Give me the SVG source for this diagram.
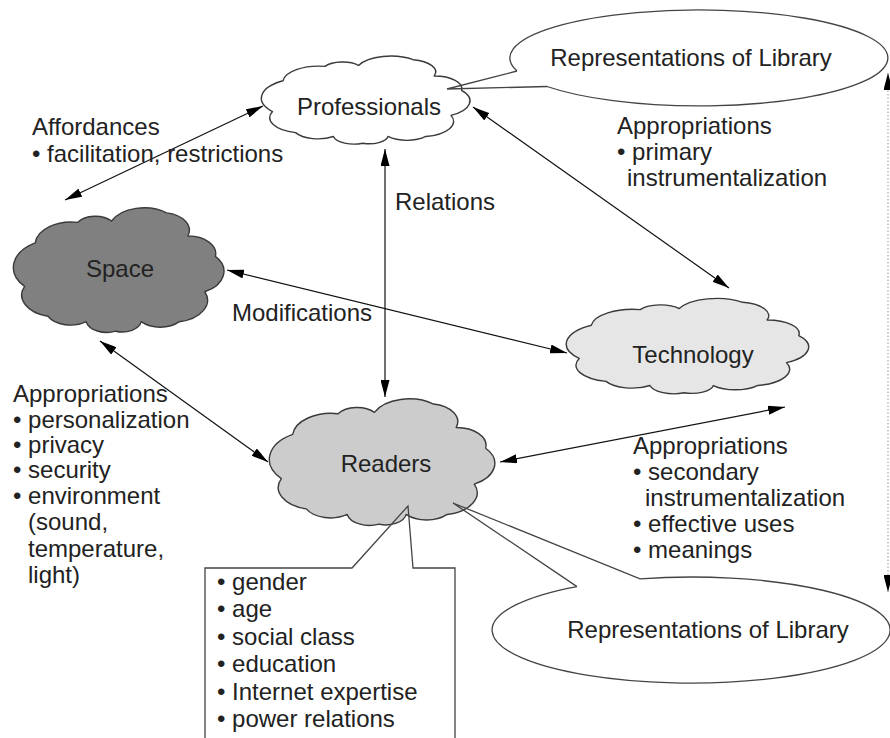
<svg xmlns="http://www.w3.org/2000/svg" width="890" height="738" viewBox="0 0 890 738">
<style>
.t{font-family:"Liberation Sans",Arial,sans-serif;font-size:24px;fill:#222}
.c{text-anchor:middle}
.cloud{stroke:#3a3a3a;stroke-width:1.4;vector-effect:non-scaling-stroke;stroke-linejoin:round}
.callfill{fill:#fff;stroke:none}
.callline{fill:none;stroke:#444;stroke-width:1.3}
.arrow{fill:none;stroke:#111;stroke-width:1.2;marker-start:url(#ah);marker-end:url(#ah)}
.dotted{fill:none;stroke:#aaa;stroke-width:1.2;stroke-dasharray:1.5 2;marker-start:url(#ah);marker-end:url(#ah)}
</style>
<defs>
<marker id="ah" viewBox="0 0 17 9" markerWidth="17" markerHeight="9" refX="17" refY="4.5" orient="auto-start-reverse" markerUnits="userSpaceOnUse">
<path d="M0,0 L17,4.5 L0,9 Z" fill="#000"/>
</marker>
</defs>
<rect width="890" height="738" fill="#fff"/>

<g id="callout-fills">
<path class="callfill" d="M517,71 L447,89 L547,86.5 A189 48 0 1 0 517 71 Z"/>
<path class="callfill" d="M577,586.6 L453,503 L640,578.8 A199 53 0 1 1 577 586.6 Z"/>
<path class="callfill" d="M205,738 L205,568 L352,568 L408,506 L413,568 L455,568 L455,738 Z"/>
</g>

<g id="professionals">
<path class="cloud" fill="#ffffff" transform="translate(262,52) scale(2.1,0.96)" d="M5,62 A21,21 0 0 1 10,30 A17,17 0 0 1 30,15 A10,10 0 0 1 46,14 A17,17 0 0 1 72,8 A13,13 0 0 1 82,25 A13,13 0 0 1 95,40 A17,17 0 0 1 90,66 A16,16 0 0 1 78,88 A12,12 0 0 1 60,88 A9,9 0 0 1 48,95 A10,10 0 0 1 34,88 A12,12 0 0 1 16,84 A16,16 0 0 1 5,62 Z"/>
<text class="t c" x="369" y="115">Professionals</text>
</g>

<g id="space">
<path class="cloud" fill="#808080" transform="translate(14,202) scale(2.12,1.36)" d="M5,62 A21,21 0 0 1 10,30 A17,17 0 0 1 30,15 A10,10 0 0 1 46,14 A17,17 0 0 1 72,8 A13,13 0 0 1 82,25 A13,13 0 0 1 95,40 A17,17 0 0 1 90,66 A16,16 0 0 1 78,88 A12,12 0 0 1 60,88 A9,9 0 0 1 48,95 A10,10 0 0 1 34,88 A12,12 0 0 1 16,84 A16,16 0 0 1 5,62 Z"/>
<text class="t c" x="120" y="277">Space</text>
</g>

<g id="technology">
<path class="cloud" fill="#e6e6e6" transform="translate(567,294) scale(2.44,1.04)" d="M5,62 A21,21 0 0 1 10,30 A17,17 0 0 1 30,15 A10,10 0 0 1 46,14 A17,17 0 0 1 72,8 A13,13 0 0 1 82,25 A13,13 0 0 1 95,40 A17,17 0 0 1 90,66 A16,16 0 0 1 78,88 A12,12 0 0 1 60,88 A9,9 0 0 1 48,95 A10,10 0 0 1 34,88 A12,12 0 0 1 16,84 A16,16 0 0 1 5,62 Z"/>
<text class="t c" x="693" y="363">Technology</text>
</g>

<g id="readers">
<path class="cloud" fill="#cccccc" transform="translate(270,393) scale(2.27,1.38)" d="M5,62 A21,21 0 0 1 10,30 A17,17 0 0 1 30,15 A10,10 0 0 1 46,14 A17,17 0 0 1 72,8 A13,13 0 0 1 82,25 A13,13 0 0 1 95,40 A17,17 0 0 1 90,66 A16,16 0 0 1 78,88 A12,12 0 0 1 60,88 A9,9 0 0 1 48,95 A10,10 0 0 1 34,88 A12,12 0 0 1 16,84 A16,16 0 0 1 5,62 Z"/>
<text class="t c" x="386" y="472">Readers</text>
</g>

<g id="representations-top">
<path class="callline" d="M517,71 L447,89 L547,86.5 A189 48 0 1 0 517 71"/>
<text class="t c" x="691" y="66">Representations of Library</text>
</g>

<g id="representations-bottom">
<path class="callline" d="M577,586.6 L453,503 L640,578.8 A199 53 0 1 1 577 586.6"/>
<text class="t c" x="708" y="638">Representations of Library</text>
</g>

<g id="reader-attributes">
<path class="callline" d="M205,738 L205,568 L352,568 L408,506 L413,568 L455,568 L455,738"/>
<text class="t" x="217" y="590">• gender</text>
<text class="t" x="217" y="617">• age</text>
<text class="t" x="217" y="645">• social class</text>
<text class="t" x="217" y="672">• education</text>
<text class="t" x="217" y="700">• Internet expertise</text>
<text class="t" x="217" y="727">• power relations</text>
</g>

<g id="connectors">
<line class="arrow" x1="263" y1="106" x2="65" y2="200"/>
<line class="arrow" x1="385" y1="149" x2="385" y2="397"/>
<line class="arrow" x1="473" y1="107" x2="729" y2="288"/>
<line class="arrow" x1="227" y1="270" x2="567" y2="353"/>
<line class="arrow" x1="100" y1="341" x2="268" y2="462"/>
<line class="arrow" x1="500" y1="462" x2="785" y2="407"/>
<line class="dotted" x1="888" y1="73" x2="888" y2="592"/>
</g>

<g id="labels">
<text class="t" x="32" y="135">Affordances</text>
<text class="t" x="32" y="162">• facilitation, restrictions</text>
<text class="t" x="617" y="134">Appropriations</text>
<text class="t" x="617" y="160">• primary</text>
<text class="t" x="627" y="186">instrumentalization</text>
<text class="t" x="395" y="210">Relations</text>
<text class="t" x="232" y="321">Modifications</text>
<text class="t" x="13" y="402">Appropriations</text>
<text class="t" x="13" y="428">• personalization</text>
<text class="t" x="13" y="453">• privacy</text>
<text class="t" x="13" y="478">• security</text>
<text class="t" x="13" y="504">• environment</text>
<text class="t" x="28" y="530">(sound,</text>
<text class="t" x="28" y="557">temperature,</text>
<text class="t" x="28" y="583">light)</text>
<text class="t" x="633" y="454">Appropriations</text>
<text class="t" x="633" y="480">• secondary</text>
<text class="t" x="645" y="506">instrumentalization</text>
<text class="t" x="633" y="532">• effective uses</text>
<text class="t" x="633" y="558">• meanings</text>
</g>
</svg>
